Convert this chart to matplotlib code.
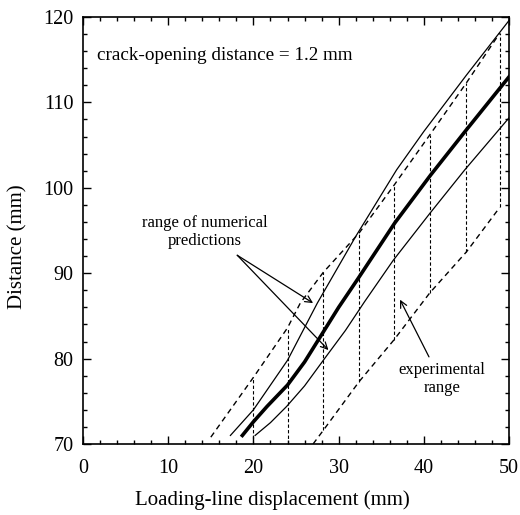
import numpy as np
import matplotlib
matplotlib.use("Agg")
import matplotlib.pyplot as plt
from matplotlib.ticker import MultipleLocator

plt.rcParams['font.family'] = ['Liberation Serif', 'DejaVu Serif']

# numerical predictions (upper bound, mean, lower bound)
up_x = [17.3, 20, 24, 27.5, 32, 36.8, 40, 45, 50]
up_y = [71.0, 74.0, 79.8, 86.5, 94.3, 102.1, 106.6, 113.2, 119.6]
mid_x = [18.7, 20, 21.6, 24, 26, 28, 30, 32.3, 36.6, 40.8, 45, 50]
mid_y = [71.0, 72.6, 74.4, 76.9, 79.6, 82.8, 86.0, 89.4, 95.9, 101.5, 106.8, 113.0]
lo_x = [20.2, 22, 23.9, 26, 28.2, 30.8, 33, 36.4, 40.7, 44.8, 50]
lo_y = [71.0, 72.5, 74.4, 76.8, 79.8, 83.3, 86.6, 91.5, 97.0, 102.1, 108.2]

# experimental range
ehi_x = [15.0, 20, 24, 25.5, 28.2, 32.4, 36.5, 40.7, 45, 48.9]
ehi_y = [70.8, 77.8, 83.6, 86.5, 90.1, 94.7, 100.3, 106.2, 112.3, 118.1]
elo_x = [27.0, 28.2, 32.4, 36.5, 40.7, 45, 48.9]
elo_y = [70.0, 71.6, 77.3, 82.2, 87.7, 92.5, 97.7]
bar_x = [20, 24, 28.2, 32.4, 36.5, 40.7, 45, 48.9]
bar_lo = [70.0, 70.0, 71.6, 77.3, 82.2, 87.7, 92.5, 97.7]
bar_hi = [77.8, 83.6, 90.1, 94.7, 100.3, 106.2, 112.3, 118.1]

fig = plt.figure(figsize=(5.2, 5.15), dpi=100)
ax = fig.add_axes([0.1596, 0.1379, 0.8194, 0.8291])

ax.plot(up_x, up_y, color='black', lw=0.9)
ax.plot(mid_x, mid_y, color='black', lw=2.6)
ax.plot(lo_x, lo_y, color='black', lw=0.9)
ax.plot(ehi_x, ehi_y, color='black', lw=1.0, ls=(0, (4, 3)))
ax.plot(elo_x, elo_y, color='black', lw=1.0, ls=(0, (4, 3)))
ax.vlines(bar_x, bar_lo, bar_hi, color='black', lw=0.8, linestyles=(0, (3, 2)))

ax.set_xlim(0, 50)
ax.set_ylim(70, 120)
ax.xaxis.set_major_locator(MultipleLocator(10))
ax.xaxis.set_minor_locator(MultipleLocator(2))
ax.yaxis.set_major_locator(MultipleLocator(10))
ax.yaxis.set_minor_locator(MultipleLocator(2))
ax.tick_params(which='both', direction='in', top=True, right=True, labelsize=14.5, width=1)
ax.tick_params(which='major', length=6)
ax.tick_params(which='minor', length=3)
ax.tick_params(axis='x', which='major', pad=11)
ax.tick_params(axis='y', which='major', pad=7)
for s in ax.spines.values():
    s.set_linewidth(1.2)

ax.set_xlabel('Loading-line displacement (mm)', fontsize=15)
ax.set_ylabel('Distance (mm)', fontsize=15)
ax.xaxis.set_label_coords(0.444, -0.132)
ax.xaxis.label.set_va('center')
ax.yaxis.set_label_coords(-0.153, 0.461)
ax.yaxis.label.set_va('center')

ax.text(1.6, 115.5, 'crack-opening distance = 1.2 mm', fontsize=13.8, va='center', ha='left')
ax.text(14.3, 94.8, 'range of numerical\npredictions', fontsize=12, ha='center', va='center',
        linespacing=1.2)
ax.text(42.1, 77.6, 'experimental\nrange', fontsize=12, ha='center', va='center', linespacing=1.2)

arrow = dict(arrowstyle='->', color='black', lw=0.9, shrinkA=0, shrinkB=0, mutation_scale=12)
ax.annotate('', xy=(27.0, 86.5), xytext=(18.1, 92.1), arrowprops=arrow)
ax.annotate('', xy=(28.8, 81.0), xytext=(18.1, 92.1), arrowprops=arrow)
ax.annotate('', xy=(37.2, 86.9), xytext=(40.6, 80.2), arrowprops=arrow)

fig.savefig('out.png', dpi=100)
